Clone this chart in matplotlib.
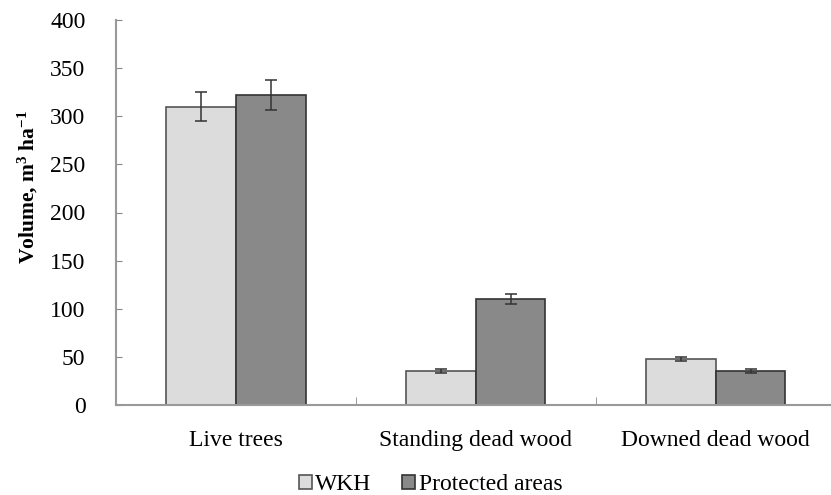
import matplotlib
matplotlib.use("Agg")
import matplotlib.pyplot as plt
import numpy as np

categories = ["Live trees", "Standing dead wood", "Downed dead wood"]
wkh = [310, 35, 48]
wkh_err = [15, 2, 2]
protected = [322, 110, 35]
protected_err = [16, 5.5, 2]
yticks = [0, 50, 100, 150, 200, 250, 300, 350, 400]

plt.rcParams['font.family'] = ['Liberation Serif', 'DejaVu Serif']
plt.rcParams['mathtext.fontset'] = 'custom'
plt.rcParams['mathtext.rm'] = 'Liberation Serif'
plt.rcParams['mathtext.bf'] = 'Liberation Serif:bold'
plt.rcParams['mathtext.default'] = 'regular'

fig = plt.figure(figsize=(8.31, 4.95), dpi=100)
ax = fig.add_axes([116/831, 90/495, 1 - 116/831, 385/495])

x = np.arange(len(categories))
w = 0.29
ekw = dict(ecolor='#333333', elinewidth=1.1, capsize=4.5, capthick=1.1)
ax.bar(x - w/2, wkh, w, color='#dcdcdc', edgecolor='#555555', linewidth=1.2,
       yerr=wkh_err, error_kw=ekw, label='WKH')
ax.bar(x + w/2, protected, w, color='#898989', edgecolor='#333333', linewidth=1.2,
       yerr=protected_err, error_kw=ekw, label='Protected areas')

ax.set_ylim(0, 400)
ax.set_xlim(-0.5, 2.48)
ax.set_yticks(yticks)
ax.set_xticks(x)
ax.set_xticklabels(categories, fontsize=17)
ax.set_xticks([0.5, 1.5], minor=True)
ax.tick_params(axis='x', which='major', length=0, pad=18)
ax.tick_params(axis='x', which='minor', length=6, direction='in', color='#888888')
ax.tick_params(axis='y', labelsize=17, length=4, direction='in', color='#888888', pad=22)
for s in ['top', 'right']:
    ax.spines[s].set_visible(False)
for s in ['left', 'bottom']:
    ax.spines[s].set_color('#999999')
    ax.spines[s].set_linewidth(1.5)
ax.set_ylabel(r'Volume, m$^{\mathbf{3}}$ ha$^{\mathbf{-1}}$', fontsize=15.5, fontweight='bold')
ax.yaxis.set_label_coords(-0.106, 0.566)

ax.legend(loc='lower center', bbox_to_anchor=(0.44, -0.29), ncol=2, frameon=False,
          fontsize=17, handlelength=0.55, handleheight=0.55, handletextpad=0.15, columnspacing=1.3)

fig.savefig('out.png', dpi=100)
